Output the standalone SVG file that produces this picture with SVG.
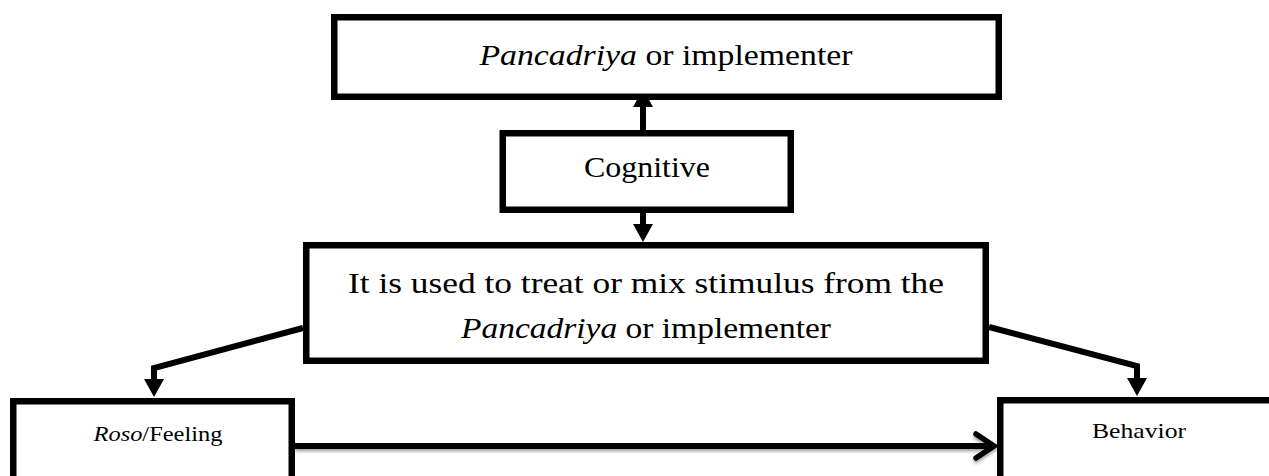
<svg xmlns="http://www.w3.org/2000/svg" width="1269" height="476" viewBox="0 0 1269 476">
<style>
.box{fill:#fff;stroke:#000;stroke-width:6.5}
.t{font-family:"Liberation Serif","Times New Roman",serif;fill:#000;text-anchor:middle}
.big{font-size:30px}
.small{font-size:21px}
.it{font-style:italic}
.con{fill:none;stroke:#000;stroke-width:6}
</style>
<defs>
<marker id="head" markerUnits="userSpaceOnUse" markerWidth="20" markerHeight="20" refX="0" refY="10" orient="auto" viewBox="0 0 20 20">
<path d="M0,0 L18,10 L0,20 z" fill="#000"/>
</marker>
<marker id="chev" markerUnits="userSpaceOnUse" markerWidth="30" markerHeight="34" refX="24" refY="17" orient="auto" viewBox="0 0 30 34">
<path d="M6,5 L24,17 L6,29" fill="none" stroke="#000" stroke-width="5.5" stroke-linecap="round" stroke-linejoin="miter"/>
</marker>
<filter id="shadow" filterUnits="userSpaceOnUse" x="280" y="415" width="740" height="60">
<feDropShadow dx="0" dy="2.5" stdDeviation="1.5" flood-color="#000" flood-opacity="0.35"/>
</filter>
</defs>

<g id="connectors">
<line class="con" x1="643" y1="130" x2="643" y2="107" marker-end="url(#head)"/>
<line class="con" x1="643" y1="213" x2="643" y2="224" marker-end="url(#head)"/>
<polyline class="con" points="303,328 154,368 154,379" marker-end="url(#head)" stroke-linejoin="miter"/>
<polyline class="con" points="989,327 1137,366 1137,378" marker-end="url(#head)" stroke-linejoin="miter"/>
<g filter="url(#shadow)">
<line class="con" x1="295" y1="446" x2="994" y2="446" marker-end="url(#chev)"/>
</g>
</g>

<g id="node-pancadriya">
<rect class="box" x="334.25" y="17.25" width="664.5" height="79.5"/>
<text class="t big" x="666" y="65" textLength="373" lengthAdjust="spacingAndGlyphs"><tspan class="it">Pancadriya</tspan> or implementer</text>
</g>

<g id="node-cognitive">
<rect class="box" x="502.75" y="133.25" width="288" height="76.5"/>
<text class="t big" x="647" y="177" textLength="126" lengthAdjust="spacingAndGlyphs">Cognitive</text>
</g>

<g id="node-treat">
<rect class="box" x="306.25" y="245.25" width="679.5" height="115.5"/>
<text class="t big" x="646" y="293" textLength="596" lengthAdjust="spacingAndGlyphs">It is used to treat or mix stimulus from the</text>
<text class="t big" x="646" y="338" textLength="370" lengthAdjust="spacingAndGlyphs"><tspan class="it">Pancadriya</tspan> or implementer</text>
</g>

<g id="node-roso">
<rect class="box" x="13.25" y="401.25" width="278.5" height="100"/>
<text class="t small" x="158" y="441" textLength="129" lengthAdjust="spacingAndGlyphs"><tspan class="it">Roso</tspan>/Feeling</text>
</g>

<g id="node-behavior">
<rect class="box" x="1000.25" y="400.25" width="300" height="100"/>
<text class="t small" x="1139" y="438" textLength="94" lengthAdjust="spacingAndGlyphs">Behavior</text>
</g>
</svg>
